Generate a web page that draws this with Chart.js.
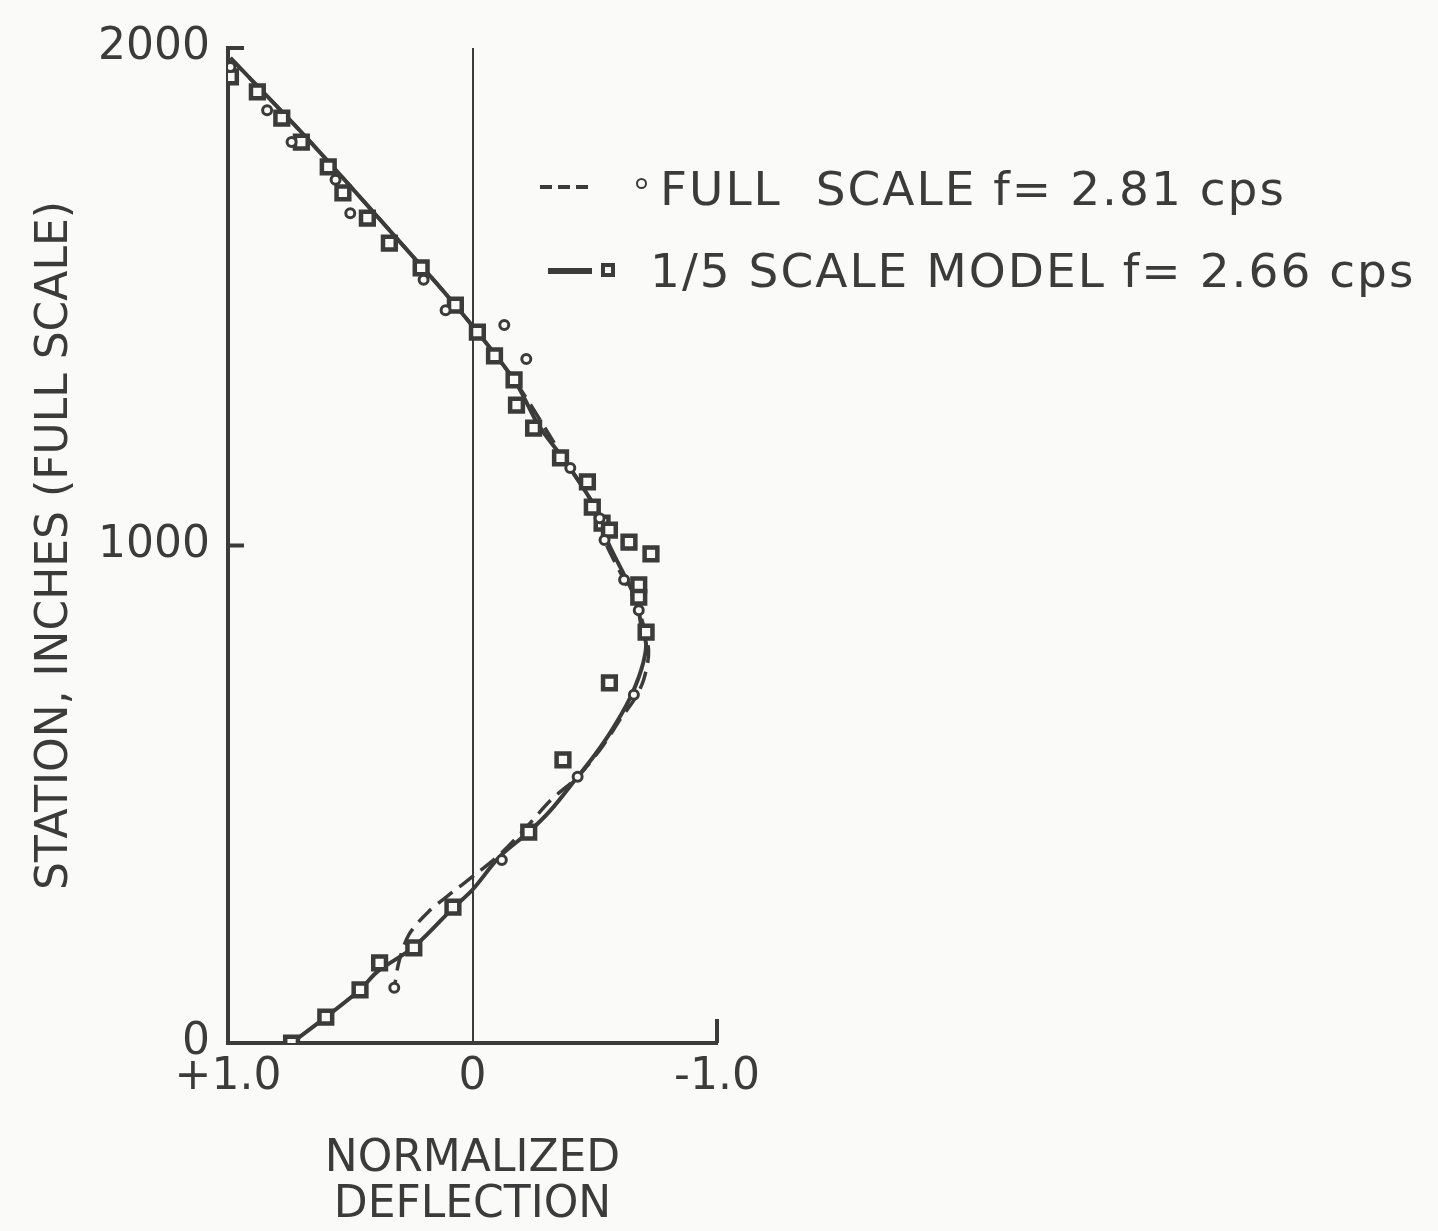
<!DOCTYPE html>
<html>
<head>
<meta charset="utf-8">
<title>Normalized deflection</title>
<script src="https://cdn.jsdelivr.net/npm/chart.js@4.4.0/dist/chart.umd.min.js"></script>
<style>
  html, body { margin: 0; padding: 0; background: #fafaf8; }
  #wrap { position: relative; width: 1438px; height: 1231px; }
  #chart { position: absolute; left: 0; top: 0; }
  .row { position: absolute; font-family: "DejaVu Sans", sans-serif; font-size: 47px; line-height: 47px;
         color: #3b3b3b; letter-spacing: 2px; white-space: pre; }
  .mk { position: absolute; background: #3b3b3b; }
  .dot { position: absolute; border: 2px solid #3b3b3b; border-radius: 50%; background: #fafaf8; }
  .sq { position: absolute; border: 4px solid #3b3b3b; background: #fafaf8; }
</style>
</head>
<body>
<div id="wrap">
  <canvas id="chart" width="1438" height="1231"></canvas>
  <div id="legend"></div>
</div>
<script>
// full scale test (open circles)
const fullDefl    = [0.99, 0.84, 0.74, 0.56, 0.50, 0.20, 0.11, -0.13, -0.22, -0.40, -0.52, -0.54, -0.62, -0.68, -0.66, -0.43, -0.12, 0.32];
const fullStation = [1962, 1875, 1811, 1735, 1668, 1534, 1473, 1443, 1375, 1156, 1055, 1011, 931, 870, 700, 535, 368, 111];

// 1/5 scale model (squares)
const modelDefl    = [0.99, 0.88, 0.78, 0.70, 0.59, 0.53, 0.43, 0.34, 0.21, 0.07, -0.02, -0.09, -0.17, -0.18, -0.25, -0.36, -0.47, -0.49, -0.53, -0.56, -0.64, -0.73, -0.68, -0.68, -0.71, -0.56, -0.37, -0.23, 0.08, 0.24, 0.38, 0.46, 0.60, 0.74];
const modelStation = [1942, 1912, 1859, 1811, 1761, 1709, 1658, 1608, 1558, 1483, 1429, 1381, 1333, 1282, 1236, 1176, 1128, 1077, 1045, 1031, 1007, 983, 921, 896, 826, 724, 569, 424, 273, 191, 161, 107, 52, 0];

// faired curves
const modelCurveDefl    = [0.99, 0.67, 0.34, 0.07, -0.17, -0.27, -0.39, -0.52, -0.55, -0.61, -0.67, -0.69, -0.71, -0.69, -0.64, -0.57, -0.50, -0.42, -0.32, -0.23, -0.11, 0.00, 0.08, 0.24, 0.39, 0.46, 0.60, 0.74];
const modelCurveStation = [1980, 1815, 1634, 1483, 1333, 1242, 1162, 1061, 1011, 951, 890, 840, 800, 750, 689, 629, 579, 529, 468, 424, 374, 308, 271, 193, 143, 107, 52, 0];
const fullCurveDefl    = [0.99, 0.67, 0.34, 0.07, -0.17, -0.39, -0.52, -0.54, -0.62, -0.68, -0.72, -0.70, -0.66, -0.61, -0.53, -0.43, -0.32, -0.21, -0.11, -0.01, 0.08, 0.18, 0.26, 0.30, 0.32];
const fullCurveStation = [1980, 1815, 1634, 1483, 1333, 1162, 1061, 1011, 931, 870, 790, 730, 689, 655, 595, 535, 488, 428, 378, 338, 304, 264, 218, 165, 111];

const deflTicks = [1, 0, -1];
const deflTickLabels = ['+1.0', '0', '-1.0'];
const stationTicks = [0, 1000, 2000];

const ink = '#3b3b3b';
const paper = '#fafaf8';
const font = '"DejaVu Sans", sans-serif';

function toPoints(xs, ys) {
  return xs.map((v, i) => ({ x: v, y: ys[i] }));
}

// small inward ticks like the original drawing
const innerTicks = {
  id: 'innerTicks',
  afterDatasetsDraw(chart) {
    const { ctx, scales: { x, y } } = chart;
    const x0 = x.getPixelForValue(1);
    const y0 = y.getPixelForValue(0);
    ctx.save();
    ctx.strokeStyle = ink;
    ctx.lineWidth = 4;
    stationTicks.forEach(v => {
      if (v === 0) return;
      const py = y.getPixelForValue(v);
      ctx.beginPath();
      ctx.moveTo(x0, py);
      ctx.lineTo(x0 + 16, py);
      ctx.stroke();
    });
    const px = x.getPixelForValue(-1);
    ctx.beginPath();
    ctx.moveTo(px, y0);
    ctx.lineTo(px, y0 - 24);
    ctx.stroke();
    ctx.restore();
  }
};

const chart = new Chart(document.getElementById('chart'), {
  type: 'scatter',
  data: {
    datasets: [
      {
        label: 'FULL  SCALE f= 2.81 cps',
        data: toPoints(fullDefl, fullStation),
        pointStyle: 'circle',
        pointRadius: 4.5,
        borderWidth: 3,
        borderColor: ink,
        backgroundColor: paper,
        order: 0
      },
      {
        label: '1/5 SCALE MODEL f= 2.66 cps',
        data: toPoints(modelDefl, modelStation),
        pointStyle: 'rect',
        pointRadius: 9,
        borderWidth: 4.5,
        borderColor: ink,
        backgroundColor: paper,
        order: 1
      },
      {
        label: 'model curve',
        data: toPoints(modelCurveDefl, modelCurveStation),
        showLine: true,
        pointRadius: 0,
        borderColor: ink,
        borderWidth: 4,
        tension: 0.3,
        order: 2
      },
      {
        label: 'full scale curve',
        data: toPoints(fullCurveDefl, fullCurveStation),
        showLine: true,
        pointRadius: 0,
        borderColor: ink,
        borderWidth: 3.5,
        borderDash: [18, 9],
        tension: 0.3,
        order: 3
      }
    ]
  },
  options: {
    responsive: false,
    animation: false,
    layout: { padding: { left: 0, top: 48, right: 721, bottom: 0 } },
    plugins: {
      legend: { display: false },
      tooltip: { enabled: false }
    },
    scales: {
      x: {
        type: 'linear',
        reverse: true,
        min: -1,
        max: 1,
        afterBuildTicks: s => { s.ticks = deflTicks.map(v => ({ value: v })); },
        afterFit: s => { s.height = 188; },
        grid: {
          drawTicks: false,
          lineWidth: 2,
          color: c => (c.tick && c.tick.value === 0 ? ink : 'rgba(0,0,0,0)')
        },
        border: { display: true, color: ink, width: 4 },
        ticks: {
          padding: 8,
          color: ink,
          font: { family: font, size: 44 },
          maxRotation: 0,
          callback: v => deflTickLabels[deflTicks.indexOf(v)]
        },
        title: {
          display: true,
          text: ['NORMALIZED', 'DEFLECTION'],
          color: ink,
          font: { family: font, size: 44, lineHeight: 1.05 },
          padding: { top: 0, bottom: 2 }
        }
      },
      y: {
        type: 'linear',
        min: 0,
        max: 2000,
        afterBuildTicks: s => { s.ticks = stationTicks.map(v => ({ value: v })); },
        afterFit: s => { s.width = 228; },
        grid: { drawTicks: false, color: 'rgba(0,0,0,0)' },
        border: { display: true, color: ink, width: 4 },
        ticks: {
          padding: 18,
          color: ink,
          font: { family: font, size: 44 },
          callback: v => String(v)
        },
        title: {
          display: true,
          text: 'STATION, INCHES (FULL SCALE)',
          color: ink,
          font: { family: font, size: 44, lineHeight: 1.2 },
          padding: { top: 29, bottom: 0 }
        }
      }
    }
  },
  plugins: [innerTicks]
});

// legend built from the two measured datasets
const legendBox = document.getElementById('legend');
const rows = [
  { ds: chart.data.datasets[0], top: 165, textLeft: 660 },
  { ds: chart.data.datasets[1], top: 247, textLeft: 650 }
];
rows.forEach(r => {
  const t = document.createElement('div');
  t.className = 'row';
  t.style.left = r.textLeft + 'px';
  t.style.top = r.top + 'px';
  t.textContent = r.ds.label;
  legendBox.appendChild(t);
});
// dashed line + circle
[[540, 12], [558, 12], [576, 12]].forEach(d => {
  const m = document.createElement('div');
  m.className = 'mk';
  m.style.cssText = `left:${d[0]}px;top:185px;width:${d[1]}px;height:4px;`;
  legendBox.appendChild(m);
});
const dot = document.createElement('div');
dot.className = 'dot';
dot.style.cssText = 'left:636px;top:178px;width:7px;height:7px;';
legendBox.appendChild(dot);
// solid line + square
const bar = document.createElement('div');
bar.className = 'mk';
bar.style.cssText = 'left:548px;top:268px;width:44px;height:6px;';
legendBox.appendChild(bar);
const sq = document.createElement('div');
sq.className = 'sq';
sq.style.cssText = 'left:601px;top:263px;width:6px;height:6px;';
legendBox.appendChild(sq);
</script>
</body>
</html>
